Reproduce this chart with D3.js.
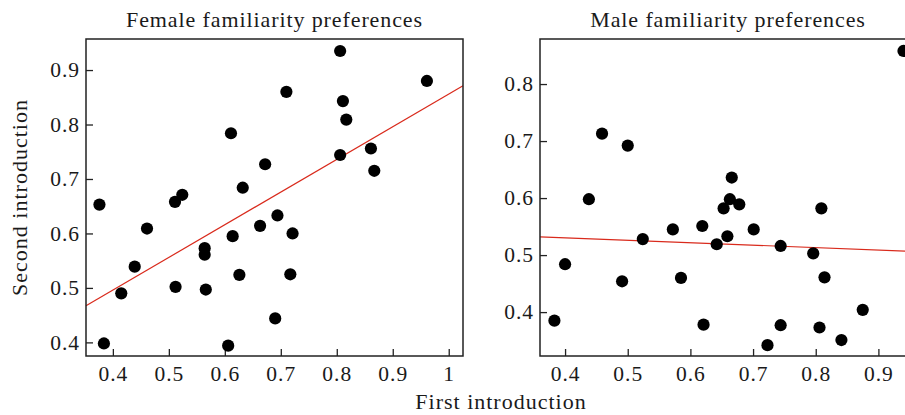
<!DOCTYPE html>
<head>
<meta charset="utf-8">
<style>
body { margin: 0; background: #fff; }
text { font-family: "Liberation Serif", serif; fill: #1a1a1a; }
.tick text { font-size: 21.5px; letter-spacing: 1px; }
.tick line { stroke: #222; stroke-width: 1.3px; }
.frame { fill: none; stroke: #222; stroke-width: 1.5px; }
.fit { stroke: #d92a1c; stroke-width: 1.2px; fill: none; }
.dot { fill: #000; }
.title { font-size: 22px; letter-spacing: 0.9px; }
.label { font-size: 22px; letter-spacing: 1px; }
</style>
</head>
<body>
<svg width="905" height="415"></svg>
<script src="https://cdn.jsdelivr.net/npm/d3@7"></script>
<script>

// female panel: first vs second introduction
var femaleFirst  = [0.806, 0.961, 0.710, 0.811, 0.817, 0.611, 0.861, 0.806, 0.867, 0.672,
                    0.632, 0.376, 0.524, 0.511, 0.694, 0.461, 0.663, 0.721, 0.614, 0.564,
                    0.564, 0.439, 0.626, 0.717, 0.415, 0.512, 0.566, 0.690, 0.384, 0.606];
var femaleSecond = [0.935, 0.880, 0.860, 0.843, 0.809, 0.784, 0.756, 0.744, 0.715, 0.727,
                    0.684, 0.653, 0.671, 0.658, 0.633, 0.609, 0.614, 0.600, 0.595, 0.573,
                    0.561, 0.539, 0.524, 0.525, 0.490, 0.502, 0.497, 0.444, 0.398, 0.394];

// male panel
var maleFirst  = [0.940, 0.459, 0.500, 0.666, 0.438, 0.663, 0.653, 0.678, 0.809, 0.619,
                  0.572, 0.701, 0.524, 0.659, 0.642, 0.744, 0.796, 0.400, 0.491, 0.585,
                  0.814, 0.383, 0.621, 0.744, 0.806, 0.875, 0.841, 0.723];
var maleSecond = [0.858, 0.713, 0.692, 0.636, 0.598, 0.598, 0.582, 0.589, 0.582, 0.551,
                  0.545, 0.545, 0.528, 0.533, 0.519, 0.516, 0.503, 0.484, 0.454, 0.460,
                  0.461, 0.385, 0.378, 0.377, 0.373, 0.404, 0.351, 0.342];

// fitted lines [intercept, slope]
var femaleFit = [0.256, 0.600];
var maleFit   = [0.5475, -0.043];

var femaleXTicks = [0.4, 0.5, 0.6, 0.7, 0.8, 0.9, 1];
var femaleYTicks = [0.4, 0.5, 0.6, 0.7, 0.8, 0.9];
var maleXTicks = [0.4, 0.5, 0.6, 0.7, 0.8, 0.9];
var maleYTicks = [0.4, 0.5, 0.6, 0.7, 0.8];

var svg = d3.select("svg");
var plotTop = 39, plotBottom = 356;

var panels = [
  { title: "Female familiarity preferences", xs: femaleFirst, ys: femaleSecond, fit: femaleFit,
    xd: [0.352, 1.0255], yd: [0.375, 0.957], left: 86, right: 463,
    xt: femaleXTicks, yt: femaleYTicks },
  { title: "Male familiarity preferences", xs: maleFirst, ys: maleSecond, fit: maleFit,
    xd: [0.360, 0.960], yd: [0.323, 0.879], left: 540, right: 916,
    xt: maleXTicks, yt: maleYTicks }
];

var fmt = function(d) { return d === 1 ? "1" : d3.format(".1f")(d); };

panels.forEach(function(p) {
  var x = d3.scaleLinear().domain(p.xd).range([p.left, p.right]),
      y = d3.scaleLinear().domain(p.yd).range([plotBottom, plotTop]);
  var g = svg.append("g");

  g.append("g")
      .attr("transform", "translate(0," + plotBottom + ")")
      .call(d3.axisBottom(x).tickValues(p.xt).tickFormat(fmt).tickSize(-7).tickPadding(10))
      .call(function(a) { a.select(".domain").remove(); });

  g.append("g")
      .attr("transform", "translate(" + p.left + ",0)")
      .call(d3.axisLeft(y).tickValues(p.yt).tickFormat(fmt).tickSize(-7).tickPadding(6))
      .call(function(a) { a.select(".domain").remove(); });

  g.selectAll(".tick text").attr("font-family", null).attr("font-size", null).attr("fill", "#1a1a1a");
  g.selectAll(".tick line").attr("stroke", null);

  g.append("line")
      .attr("class", "fit")
      .attr("x1", x(p.xd[0])).attr("y1", y(p.fit[0] + p.fit[1] * p.xd[0]))
      .attr("x2", x(p.xd[1])).attr("y2", y(p.fit[0] + p.fit[1] * p.xd[1]));

  g.selectAll(".dot")
      .data(p.xs)
    .enter().append("circle")
      .attr("class", "dot")
      .attr("cx", function(d) { return x(d); })
      .attr("cy", function(d, i) { return y(p.ys[i]); })
      .attr("r", 6.1);

  g.append("rect")
      .attr("class", "frame")
      .attr("x", p.left).attr("y", plotTop)
      .attr("width", p.right - p.left).attr("height", plotBottom - plotTop);

  g.append("text")
      .attr("class", "title")
      .attr("x", (p.left + p.right) / 2).attr("y", 27)
      .attr("text-anchor", "middle")
      .text(p.title);
});

svg.append("text")
    .attr("class", "label")
    .attr("x", 501).attr("y", 409)
    .attr("text-anchor", "middle")
    .text("First introduction");

svg.append("text")
    .attr("class", "label")
    .attr("transform", "translate(27," + ((plotTop + plotBottom) / 2) + ") rotate(-90)")
    .attr("text-anchor", "middle")
    .text("Second introduction");

</script>
</body>
